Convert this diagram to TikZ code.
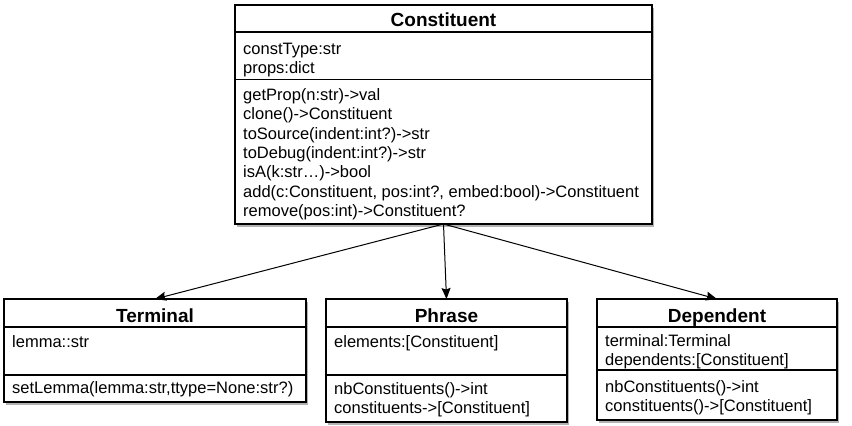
\documentclass[tikz,border=0pt]{standalone}
\usepackage{fontspec}
\setmainfont{Liberation Sans}
\usetikzlibrary{shadows,arrows.meta,calc}
\begin{document}
\begin{tikzpicture}[x=1pt,y=1pt,
  classbox/.style={draw=black, line width=1.1pt, fill=white, rectangle, inner sep=0pt, outer sep=0pt, anchor=north west,
    drop shadow={shadow xshift=2pt, shadow yshift=-2.5pt, opacity=0.3, fill=black}},
  sepline/.style={draw=black, line width=1.1pt},
  ttl/.style={font=\fontsize{19}{22}\selectfont\bfseries, inner sep=0pt, anchor=base},
  txt/.style={font=\fontsize{16.5}{19.3}\selectfont, inner sep=0pt, anchor=base west},
  arr/.style={draw=black, line width=1pt, -{Stealth[length=11pt, width=9pt, inset=1.5pt]}},
]
\useasboundingbox (0,0) rectangle (852,-426);

% ---------- Constituent ----------
\node[classbox, minimum width=417pt, minimum height=219pt] (C) at (235,-5) {};
\draw[sepline] ($(C.north west)+(0,-27)$) -- ($(C.north east)+(0,-27)$);
\draw[sepline] ($(C.north west)+(0,-74.5)$) -- ($(C.north east)+(0,-74.5)$);
\node[ttl] (Ct) at (443.5,-26.5) {Constituent};
\node[txt] (Ca1) at (243,-54.5) {constType:str};
\node[txt] (Ca2) at (243,-73.8) {props:dict};
\node[txt] (Cm1) at (243,-100.5) {getProp(n:str)->val};
\node[txt] (Cm2) at (243,-119.8) {clone()->Constituent};
\node[txt] (Cm3) at (243,-139.1) {toSource(indent:int?)->str};
\node[txt] (Cm4) at (243,-158.4) {toDebug(indent:int?)->str};
\node[txt] (Cm5) at (243,-177.7) {isA(k:str…)->bool};
\node[txt] (Cm6) at (243,-197.0) {add(c:Constituent, pos:int?, embed:bool)->Constituent};
\node[txt] (Cm7) at (243,-216.3) {remove(pos:int)->Constituent?};

% ---------- Terminal ----------
\node[classbox, minimum width=302pt, minimum height=103pt] (T) at (4,-299) {};
\draw[sepline] ($(T.north west)+(0,-28)$) -- ($(T.north east)+(0,-28)$);
\draw[sepline] ($(T.north west)+(0,-76)$) -- ($(T.north east)+(0,-76)$);
\node[ttl] (Tt) at (155,-322.5) {Terminal};
\node[txt] (Ta1) at (12,-347.5) {lemma::str};
\node[txt] (Tm1) at (12,-393.5) {setLemma(lemma:str,ttype=None:str?)};

% ---------- Phrase ----------
\node[classbox, minimum width=241pt, minimum height=123pt] (P) at (326,-299) {};
\draw[sepline] ($(P.north west)+(0,-28)$) -- ($(P.north east)+(0,-28)$);
\draw[sepline] ($(P.north west)+(0,-76)$) -- ($(P.north east)+(0,-76)$);
\node[ttl] (Pt) at (446.5,-322.5) {Phrase};
\node[txt] (Pa1) at (334,-347.5) {elements:[Constituent]};
\node[txt] (Pm1) at (334,-394.5) {nbConstituents()->int};
\node[txt] (Pm2) at (334,-413.8) {constituents->[Constituent]};

% ---------- Dependent ----------
\node[classbox, minimum width=240pt, minimum height=121pt] (D) at (597,-299) {};
\draw[sepline] ($(D.north west)+(0,-28)$) -- ($(D.north east)+(0,-28)$);
\draw[sepline] ($(D.north west)+(0,-71)$) -- ($(D.north east)+(0,-71)$);
\node[ttl] (Dt) at (717,-322.5) {Dependent};
\node[txt] (Da1) at (605,-346.5) {terminal:Terminal};
\node[txt] (Da2) at (605,-365.8) {dependents:[Constituent]};
\node[txt] (Dm1) at (605,-392.5) {nbConstituents()->int};
\node[txt] (Dm2) at (605,-411.8) {constituents()->[Constituent]};

% ---------- connectors ----------
\draw[arr] (C.south) -- (T.north);
\draw[arr] (C.south) -- (P.north);
\draw[arr] (C.south) -- (D.north);
\end{tikzpicture}
\end{document}
